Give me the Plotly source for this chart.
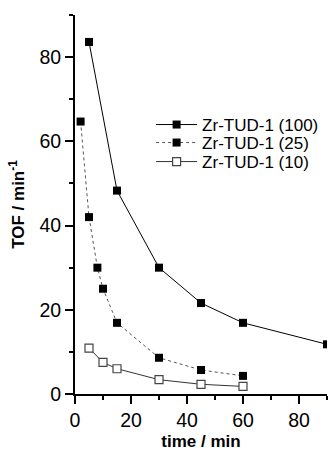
import plotly.graph_objects as go

time_100 = [5, 15, 30, 45, 60, 90]
tof_100 = [83.6, 48.3, 30.0, 21.6, 16.9, 11.8]
time_25 = [2, 5, 8, 10, 15, 30, 45, 60]
tof_25 = [64.7, 42.0, 30.0, 25.0, 16.9, 8.6, 5.7, 4.3]
time_10 = [5, 10, 15, 30, 45, 60]
tof_10 = [10.9, 7.5, 6.0, 3.4, 2.3, 1.8]

labels = ["Zr-TUD-1 (100)", "Zr-TUD-1 (25)", "Zr-TUD-1 (10)"]
FONT = "Liberation Sans, Arial, sans-serif"

fig = go.Figure()
fig.add_trace(go.Scatter(x=time_100, y=tof_100, name=labels[0], mode="lines+markers",
                         line=dict(color="black", width=1), legend="legend",
                         marker=dict(symbol="square", size=8, color="black")))
fig.add_trace(go.Scatter(x=time_25, y=tof_25, name=labels[1], mode="lines+markers",
                         line=dict(color="#555555", width=1, dash="dot"), legend="legend2",
                         marker=dict(symbol="square", size=8, color="black")))
fig.add_trace(go.Scatter(x=time_10, y=tof_10, name=labels[2], mode="lines+markers",
                         line=dict(color="#333333", width=1), legend="legend3",
                         marker=dict(symbol="square", size=8, color="white",
                                     line=dict(color="#444444", width=1.2))))

axis_common = dict(showline=True, linecolor="black", linewidth=2, ticks="outside",
                   ticklen=8, tickwidth=1.5, tickcolor="black", showgrid=False, zeroline=False,
                   automargin=False, dtick=20,
                   tickfont=dict(family=FONT, size=19.5, color="black"),
                   minor=dict(ticks="outside", ticklen=4, tickwidth=1.5, tickcolor="black", dtick=10))

fig.update_xaxes(range=[0, 90], title=dict(text="<b>time / min</b>", font=dict(family=FONT, size=17, color="black"), standoff=11), **axis_common)
fig.update_yaxes(range=[0, 90], title=dict(text="<b>TOF / min<sup>-1</sup></b>", font=dict(family=FONT, size=17, color="black"), standoff=10), **axis_common)

leg_common = dict(x=0.302, xanchor="left", yanchor="middle", bgcolor="rgba(0,0,0,0)",
                  font=dict(family=FONT, size=17, color="black"), itemwidth=41, borderwidth=0)
fig.update_layout(
    width=329, height=451,
    margin=dict(l=75, r=2, t=15, b=57),
    paper_bgcolor="white", plot_bgcolor="white",
    showlegend=True,
    font=dict(family=FONT, size=17, color="black"),
    legend=dict(y=0.7098, **leg_common),
    legend2=dict(y=0.6623, **leg_common),
    legend3=dict(y=0.6121, **leg_common),
)
fig.write_html("out.html", config={"displayModeBar": False},
               post_script="document.body.style.margin='0';document.body.style.overflow='hidden';")
